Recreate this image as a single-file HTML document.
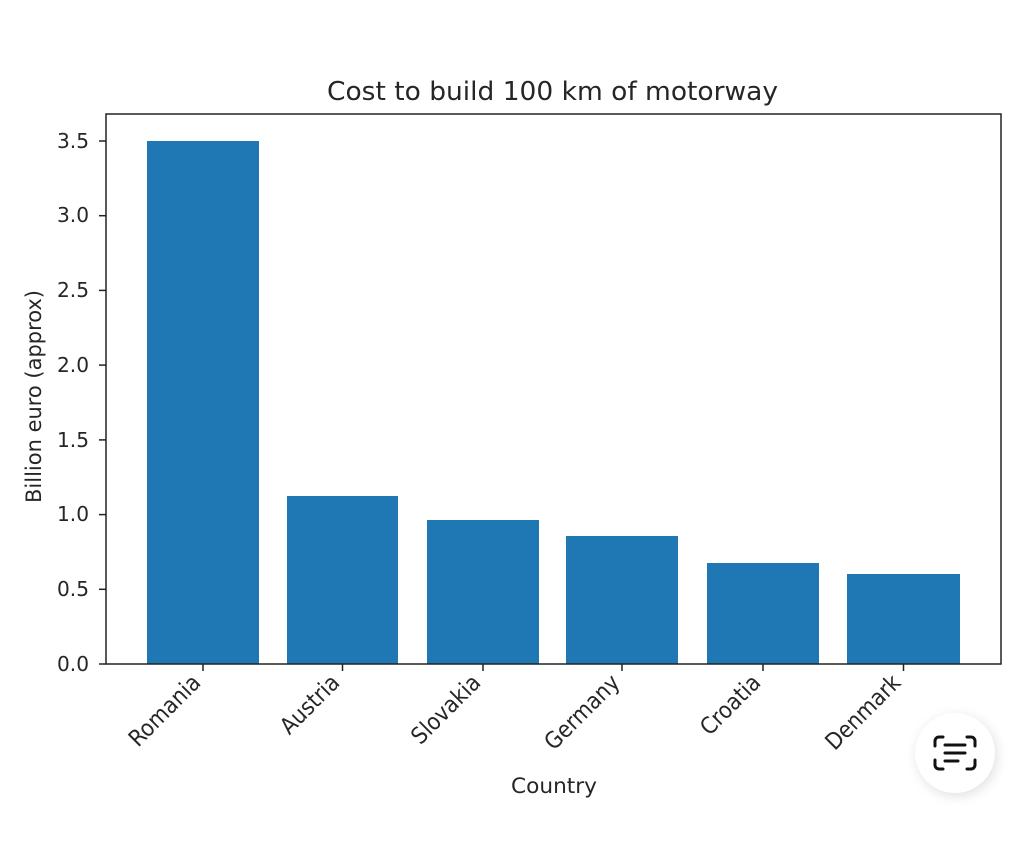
<!DOCTYPE html>
<html><head><style>html,body{margin:0;padding:0;background:#fff;}svg{display:block}</style></head>
<body>
<svg width="1024" height="860" viewBox="0 0 1024 860" xmlns="http://www.w3.org/2000/svg" font-family="DejaVu Sans Condensed, DejaVu Sans, Liberation Sans, sans-serif" fill="#262626">
<defs><filter id="sh" x="-50%" y="-50%" width="200%" height="200%"><feGaussianBlur stdDeviation="6"/></filter></defs>
<text x="327" y="100" font-size="26" textLength="451" lengthAdjust="spacingAndGlyphs">Cost to build 100 km of motorway</text>
<g fill="#1f77b4">
<rect x="147" y="141" width="112" height="523"/>
<rect x="287" y="496" width="111" height="168"/>
<rect x="427" y="520" width="112" height="144"/>
<rect x="566" y="536" width="112" height="128"/>
<rect x="707" y="563" width="112" height="101"/>
<rect x="847" y="574" width="113" height="90"/>
</g>
<rect x="106" y="114" width="895" height="550" fill="none" stroke="#222" stroke-width="1.5"/>
<g stroke="#222" stroke-width="1.5">
<line x1="99" y1="664" x2="106" y2="664"/><line x1="99" y1="589.3" x2="106" y2="589.3"/>
<line x1="99" y1="514.6" x2="106" y2="514.6"/><line x1="99" y1="439.9" x2="106" y2="439.9"/>
<line x1="99" y1="365.1" x2="106" y2="365.1"/><line x1="99" y1="290.4" x2="106" y2="290.4"/>
<line x1="99" y1="215.7" x2="106" y2="215.7"/><line x1="99" y1="141" x2="106" y2="141"/>
<line x1="203" y1="664" x2="203" y2="671"/><line x1="342.5" y1="664" x2="342.5" y2="671"/>
<line x1="483" y1="664" x2="483" y2="671"/><line x1="622" y1="664" x2="622" y2="671"/>
<line x1="763" y1="664" x2="763" y2="671"/><line x1="903.5" y1="664" x2="903.5" y2="671"/>
</g>
<g font-size="20">
<text x="57" y="671" textLength="32" lengthAdjust="spacingAndGlyphs">0.0</text>
<text x="57" y="596" textLength="32" lengthAdjust="spacingAndGlyphs">0.5</text>
<text x="57" y="521" textLength="32" lengthAdjust="spacingAndGlyphs">1.0</text>
<text x="57" y="447" textLength="32" lengthAdjust="spacingAndGlyphs">1.5</text>
<text x="57" y="372" textLength="32" lengthAdjust="spacingAndGlyphs">2.0</text>
<text x="57" y="297" textLength="32" lengthAdjust="spacingAndGlyphs">2.5</text>
<text x="57" y="222" textLength="32" lengthAdjust="spacingAndGlyphs">3.0</text>
<text x="57" y="148" textLength="32" lengthAdjust="spacingAndGlyphs">3.5</text>
</g>
<g font-size="23" text-anchor="end">
<text transform="translate(202,684) rotate(-45)">Romania</text>
<text transform="translate(341,684) rotate(-45)">Austria</text>
<text transform="translate(482,684) rotate(-45)">Slovakia</text>
<text transform="translate(621,684) rotate(-45)">Germany</text>
<text transform="translate(762,684) rotate(-45)">Croatia</text>
<text transform="translate(902,684) rotate(-45)">Denmark</text>
</g>
<text x="511" y="793" font-size="21" textLength="86" lengthAdjust="spacingAndGlyphs">Country</text>
<text transform="translate(41,503) rotate(-90)" font-size="21" textLength="213" lengthAdjust="spacingAndGlyphs">Billion euro (approx)</text>
<circle cx="957" cy="756" r="40" fill="#000" opacity="0.12" filter="url(#sh)"/>
<circle cx="955" cy="753" r="40" fill="#fff"/>
<g fill="none" stroke="#111" stroke-width="3" stroke-linecap="round">
<path d="M943 737 h-4 a4 4 0 0 0 -4 4 v5"/><path d="M967 737 h4 a4 4 0 0 1 4 4 v5"/>
<path d="M943 769 h-4 a4 4 0 0 1 -4 -4 v-5"/><path d="M967 769 h4 a4 4 0 0 0 4 -4 v-5"/>
<line x1="945" y1="745" x2="965" y2="745"/><line x1="945" y1="753" x2="965" y2="753"/><line x1="945" y1="761" x2="958" y2="761"/>
</g>
</svg>
</body></html>
